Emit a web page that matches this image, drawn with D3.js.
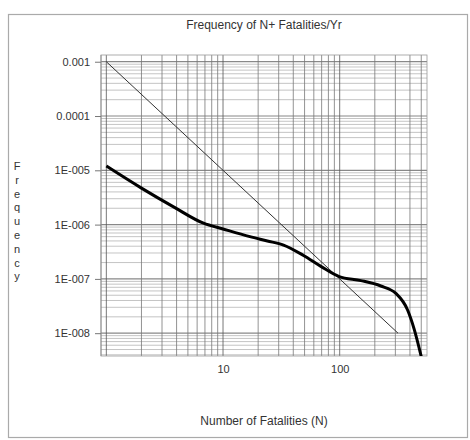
<!DOCTYPE html>
<html>
<head>
<meta charset="utf-8">
<script src="https://cdn.jsdelivr.net/npm/d3@7"></script>
<style>
  body { margin: 0; background: #fff; }
  svg { display: block; font-family: "Liberation Sans", Arial, sans-serif; }
</style>
</head>
<body>
<div id="chart"></div>
<script>
// F-N curve
const fnN    = [1, 2, 3.8, 6.8, 10, 17, 24, 33, 49, 69, 99, 152, 225, 303, 381, 434, 500];
const fnFreq = [1.2e-5, 4.7e-6, 2.1e-6, 1.06e-6, 8.3e-7, 6e-7, 5e-7, 4.2e-7, 2.7e-7, 1.7e-7, 1.1e-7, 9.3e-8, 7.4e-8, 5.4e-8, 2.7e-8, 1.2e-8, 3.7e-9];

// straight criterion line
const critN    = [1, 316];
const critFreq = [1e-3, 1e-8];

const yTickVals   = [1e-3, 1e-4, 1e-5, 1e-6, 1e-7, 1e-8];
const yTickLabels = ["0.001", "0.0001", "1E-005", "1E-006", "1E-007", "1E-008"];
const xTickVals   = [10, 100];
const xTickLabels = ["10", "100"];

const chartTitle = "Frequency of N+ Fatalities/Yr";
const xTitle = "Number of Fatalities (N)";
const yTitle = "Frequency";

const width = 470;
const height = 440;
const plotLeft = 101, plotRight = 427, plotTop = 55, plotBottom = 356;

const x = d3.scaleLog([0.9, 560], [plotLeft, plotRight]);
const y = d3.scaleLog([3.8e-9, 1.33e-3], [plotBottom, plotTop]);

const svg = d3.select("#chart").append("svg")
    .attr("width", width)
    .attr("height", height);

// outer frame
svg.append("rect")
    .attr("x", 8.5).attr("y", 14.5)
    .attr("width", 459).attr("height", 423)
    .attr("fill", "none")
    .attr("stroke", "#aaa")
    .attr("stroke-width", 1.2);

svg.append("text")
    .attr("x", 264).attr("y", 29)
    .attr("text-anchor", "middle")
    .attr("font-size", 12)
    .attr("fill", "#333")
    .text(chartTitle);

// grid lines (all 1..9 multiples)
const grid = svg.append("g");
grid.selectAll(".hgrid")
    .data(y.ticks())
    .join("line")
    .attr("x1", plotLeft).attr("x2", plotRight)
    .attr("y1", d => y(d)).attr("y2", d => y(d))
    .attr("stroke", d => yTickVals.includes(d) ? "#888" : "#aaa")
    .attr("stroke-width", d => yTickVals.includes(d) ? 1.2 : 0.7);

grid.selectAll(".vgrid")
    .data(x.ticks())
    .join("line")
    .attr("y1", plotTop).attr("y2", plotBottom)
    .attr("x1", d => x(d)).attr("x2", d => x(d))
    .attr("stroke", d => [1, 10, 100].includes(d) ? "#555" : "#777")
    .attr("stroke-width", 0.8);

// plot edges
grid.append("rect")
    .attr("x", plotLeft).attr("y", plotTop)
    .attr("width", plotRight - plotLeft).attr("height", plotBottom - plotTop)
    .attr("fill", "none")
    .attr("stroke", "#999")
    .attr("stroke-width", 0.8);

// y axis
svg.append("g")
    .attr("transform", `translate(${plotLeft},0)`)
    .call(d3.axisLeft(y).tickValues(yTickVals)
        .tickFormat((d, i) => yTickLabels[i])
        .tickSize(6).tickPadding(5))
    .call(g => g.select(".domain").remove())
    .call(g => g.selectAll(".tick line").attr("stroke", "#777"))
    .call(g => g.selectAll("text")
        .attr("font-size", 11)
        .attr("font-family", "Liberation Sans, Arial, sans-serif")
        .attr("fill", "#333"));

// x axis
svg.append("g")
    .attr("transform", `translate(0,${plotBottom})`)
    .call(d3.axisBottom(x).tickValues(xTickVals)
        .tickFormat((d, i) => xTickLabels[i])
        .tickSize(0).tickPadding(9))
    .call(g => g.select(".domain").remove())
    .call(g => g.selectAll("text")
        .attr("font-size", 11)
        .attr("font-family", "Liberation Sans, Arial, sans-serif")
        .attr("fill", "#333"));

svg.append("clipPath").attr("id", "plotClip")
  .append("rect")
    .attr("x", plotLeft).attr("y", plotTop)
    .attr("width", plotRight - plotLeft).attr("height", plotBottom - plotTop);

const line = d3.line()
    .x(d => x(d[0]))
    .y(d => y(d[1]));

svg.append("path")
    .attr("clip-path", "url(#plotClip)")
    .attr("fill", "none")
    .attr("stroke", "#333")
    .attr("stroke-width", 1)
    .attr("d", line(critN.map((n, i) => [n, critFreq[i]])));

// smooth the thick curve a bit, like the reference
svg.append("path")
    .attr("clip-path", "url(#plotClip)")
    .attr("fill", "none")
    .attr("stroke", "#000")
    .attr("stroke-width", 3)
    .attr("stroke-linejoin", "round")
    .attr("d", line.curve(d3.curveMonotoneX)(fnN.map((n, i) => [n, fnFreq[i]])));

// axis titles
svg.append("text")
    .attr("x", 264).attr("y", 425)
    .attr("text-anchor", "middle")
    .attr("font-size", 12)
    .attr("fill", "#333")
    .text(xTitle);

// vertical stacked letters
svg.append("g")
    .selectAll("text")
    .data(yTitle.split(""))
    .join("text")
    .attr("x", 17)
    .attr("y", (d, i) => 170 + i * 13.8)
    .attr("text-anchor", "middle")
    .attr("font-size", 11)
    .attr("fill", "#333")
    .text(d => d);
</script>
</body>
</html>
